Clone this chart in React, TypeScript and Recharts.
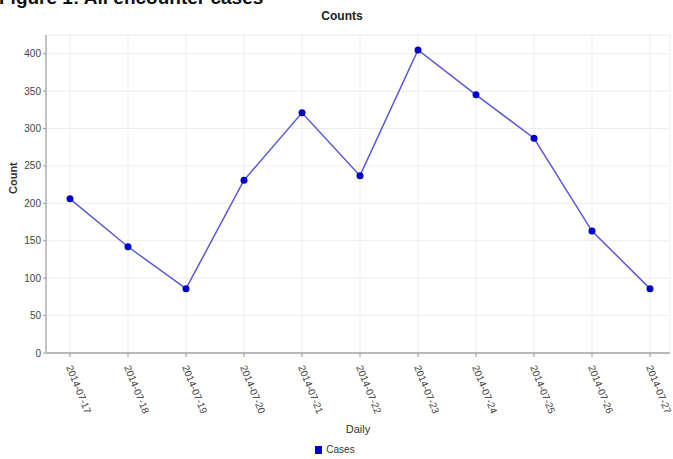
import { CartesianGrid, Legend, Line, LineChart, XAxis, YAxis } from "recharts";

const days = [
  "2014-07-17",
  "2014-07-18",
  "2014-07-19",
  "2014-07-20",
  "2014-07-21",
  "2014-07-22",
  "2014-07-23",
  "2014-07-24",
  "2014-07-25",
  "2014-07-26",
  "2014-07-27",
];
const cases = [206, 142, 86, 231, 321, 237, 405, 345, 287, 163, 86];
const yTicks = [0, 50, 100, 150, 200, 250, 300, 350, 400];

const data = days.map((day, i) => ({ day, cases: cases[i] }));

const FONT = "'Liberation Sans', Arial, sans-serif";
const DOT = "#0000cc";

function DayTick({ x, y, payload }: any) {
  return (
    <g transform={`translate(${x - 4},${y + 8})`}>
      <text transform="rotate(68)" textAnchor="start" fontSize={10} fill="#444" fontFamily={FONT}>
        {payload.value}
      </text>
    </g>
  );
}

function CasesLegend({ payload }: any) {
  return (
    <div style={{ textAlign: "center", fontSize: 10, fontFamily: FONT, color: "#333", lineHeight: "18px" }}>
      {(payload || []).map((p: any) => (
        <span key={p.value}>
          <span style={{ display: "inline-block", width: 7, height: 8, background: DOT, marginRight: 4, verticalAlign: "-1px" }} />
          {p.value}
        </span>
      ))}
    </div>
  );
}

export default function App() {
  return (
    <div style={{ position: "absolute", left: 0, top: 0, width: 673, height: 459, background: "#fff", overflow: "hidden" }}>
      <div
        style={{
          position: "absolute",
          left: -1,
          top: -13,
          fontFamily: FONT,
          fontWeight: "bold",
          fontSize: 19,
          color: "#111",
          whiteSpace: "nowrap",
        }}
      >
        Figure 1: All encounter cases
      </div>
      <div
        style={{
          position: "absolute",
          left: 0,
          width: 684,
          top: 9,
          textAlign: "center",
          fontFamily: FONT,
          fontWeight: "bold",
          fontSize: 12,
          color: "#222",
        }}
      >
        Counts
      </div>
      <LineChart width={673} height={459} data={data} margin={{ top: 35, right: 3, left: 0, bottom: 0 }}>
        <CartesianGrid stroke="#ededed" />
        <XAxis
          dataKey="day"
          padding={{ left: 24, right: 20 }}
          height={88}
          interval={0}
          tick={<DayTick />}
          tickSize={4}
          tickLine={{ stroke: "#999" }}
          axisLine={{ stroke: "#b8b8b8", strokeWidth: 2 }}
          label={{ value: "Daily", position: "insideBottom", offset: 8, fontSize: 11, fill: "#333", fontFamily: FONT }}
        />
        <XAxis xAxisId="frame" orientation="top" dataKey="day" height={0} tick={false} tickLine={false} axisLine={{ stroke: "#c4c4c4", strokeWidth: 2 }} />
        <YAxis
          width={46}
          domain={[0, 425]}
          ticks={yTicks}
          interval={0}
          tickSize={3}
          tickLine={{ stroke: "#999" }}
          axisLine={{ stroke: "#c4c4c4", strokeWidth: 2 }}
          tick={{ fontSize: 10, fill: "#444", fontFamily: FONT }}
          label={{ value: "Count", angle: -90, position: "insideLeft", offset: 13, fontSize: 11, fontWeight: "bold", fill: "#333", fontFamily: FONT }}
        />
        <YAxis yAxisId="frame" orientation="right" width={0} tick={false} tickLine={false} axisLine={{ stroke: "#c4c4c4", strokeWidth: 2 }} />
        <Legend verticalAlign="bottom" align="center" wrapperStyle={{ height: 18 }} content={<CasesLegend />} />
        <Line
          type="linear"
          dataKey="cases"
          name="Cases"
          stroke="#5a5ad6"
          strokeWidth={1.5}
          dot={{ r: 3.5, fill: DOT, stroke: DOT, strokeWidth: 0 }}
          activeDot={false}
          isAnimationActive={false}
        />
      </LineChart>
    </div>
  );
}
